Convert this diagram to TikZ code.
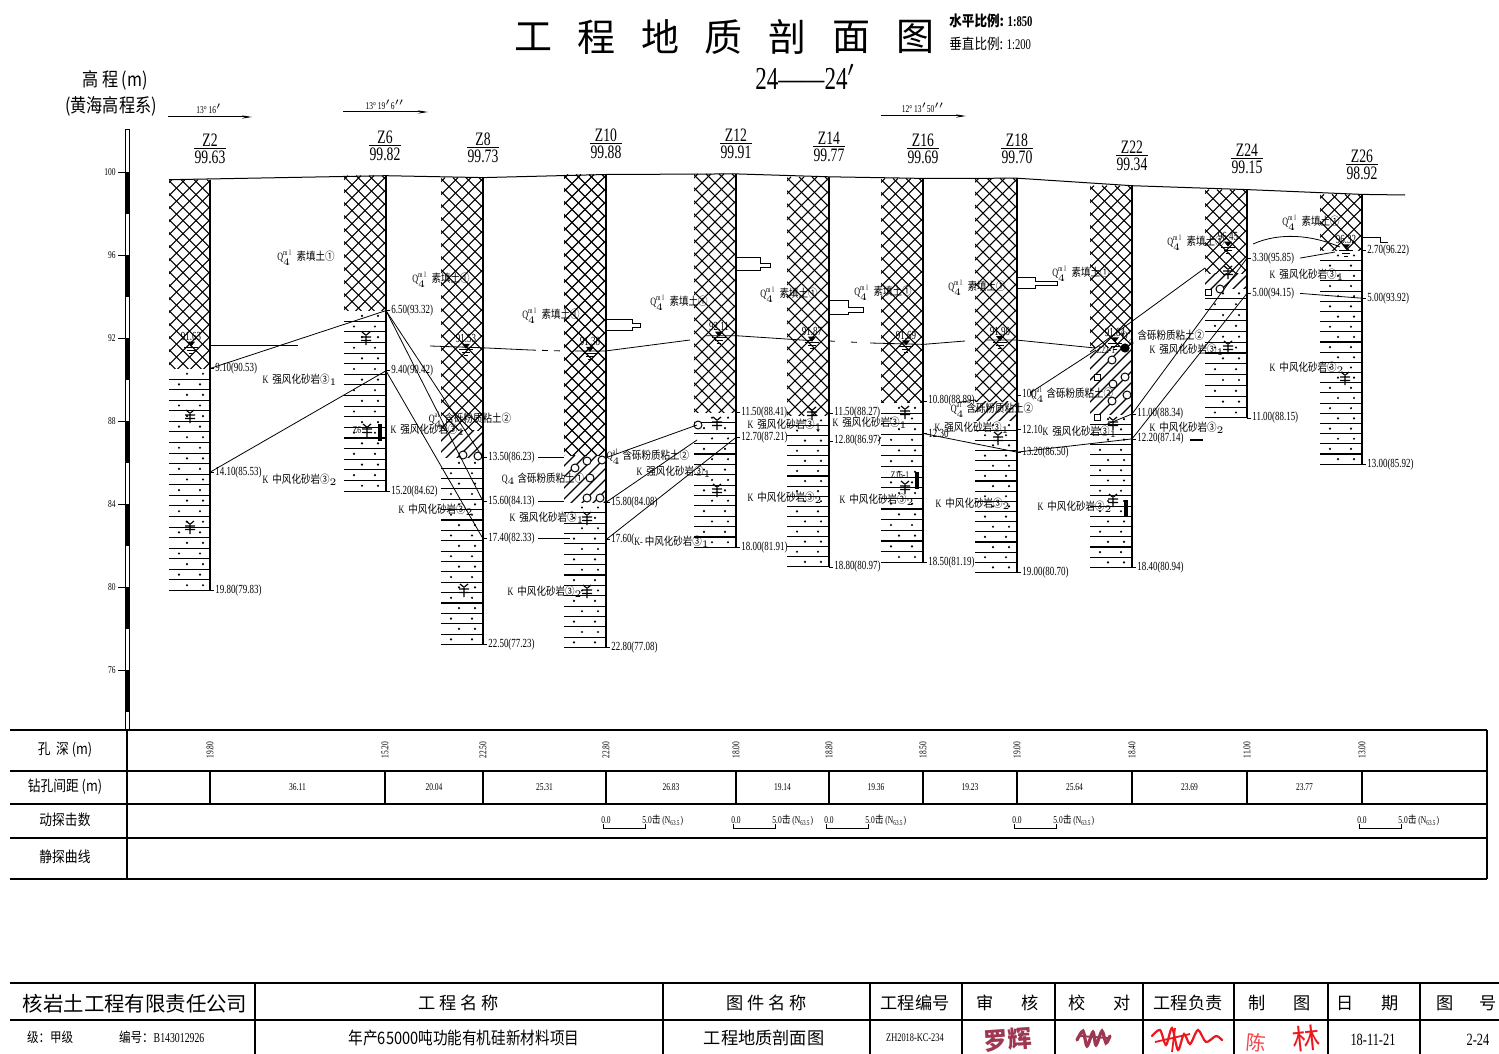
\documentclass[tikz,border=0pt]{standalone}
\usepackage{fontspec}
\setmainfont{Liberation Serif}[FakeStretch=0.72]
\newfontfamily\zh{Noto Sans CJK SC}[FakeStretch=0.85]
\newfontfamily\zhn{Noto Sans CJK SC}
\usetikzlibrary{arrows.meta}
\newcommand\fsz[1]{\fontsize{#1}{#1}\selectfont}
% layer legends
\newcommand\tFill{Q$_4^{\mathrm{ml}}$\ \ {\zh 素填土①}}
\newcommand\tClay{Q$_4^{\mathrm{al}}$\ {\zh 含砾粉质粘土②}}
\newcommand\tSw{K\ \ {\zh 强风化砂岩③}$_1$}
\newcommand\tMw{K\ \ {\zh 中风化砂岩③}$_2$}
% fill (cross hatch)
\newcommand\patX[4]{\begin{scope}\clip (#1,#2) rectangle (#3,#4);
  \foreach \kk in {0,...,27}{\draw[pat] (#1-300+\kk*13,#2) -- ++(320,320);
    \draw[pat] (#3+300-\kk*13,#2) -- ++(-320,320);}\end{scope}}
% sandstone (lines and dots)
\newcommand\patS[4]{\begin{scope}
  \pgfmathtruncatemacro\nrow{round((#4-#2)/10.4)}
  \pgfmathsetmacro\drow{(#4-#2)/\nrow}
  \foreach \ii in {1,...,\nrow}{\draw[pat] (#1,#2+\ii*\drow) -- (#3,#2+\ii*\drow);
    \fill ({#1+10+mod(\ii,2)*8},{#2+(\ii-0.5)*\drow}) circle (0.6pt);
    \fill ({#1+31+mod(\ii,2)*3},{#2+(\ii-0.5)*\drow}) circle (0.6pt);}\end{scope}}
% gravelly clay (single hatch)
\newcommand\patC[4]{\begin{scope}\clip (#1,#2) rectangle (#3,#4);
  \foreach \kk in {0,...,14}{\draw[pat] (#1+\kk*11,#2) -- ++(-200,200);}\end{scope}}
% depth label with tick
\newcommand\dep[3]{\draw (#1,#2)--++(4,0); \node[dp,anchor=west] at (#1+4,#2) {#3};}
% water level
\newcommand\wl[3]{\node[dp] at (#1,#2-9) {#3};
  \fill (#1-4,#2-4) -- (#1+4,#2-4) -- (#1,#2+1) -- cycle;
  \draw (#1-7,#2+2)--(#1+7,#2+2); \draw (#1-4,#2+5)--(#1+4,#2+5); \draw (#1-2,#2+8)--(#1+2,#2+8);}
% sample mark
\newcommand\smp[2]{\draw[line width=0.6pt] (#1,#2-4)--(#1,#2+7) (#1-5,#2-1)--(#1+5,#2-1) (#1-5,#2+2.5)--(#1+5,#2+2.5)
  (#1-4,#2-6)--(#1-1,#2-3.5) (#1+4,#2-6)--(#1+1,#2-3.5);}
% borehole header
\newcommand\bhead[5]{\node[hd] (#5) at (#1,#2) {#3}; \draw (#1-16,#2+8) -- (#1+16,#2+8);
  \node[hd] (#5e) at (#1,#2+17) {#4};}
% SPT scale in table
\newcommand\spt[1]{\node[ax] at (#1,820) {0.0}; \draw (#1-3,824)--(#1-3,828)--(#1+39,828)--(#1+39,824);
  \node[ax,anchor=west] at (#1+35,820) {5.0{\zh 击} (N\textsubscript{63.5})};}
\definecolor{sigm}{rgb}{0.62,0.22,0.32}
\definecolor{sigr}{rgb}{0.92,0.1,0.12}
\tikzset{
  pat/.style={line width=0.55pt},
  edge/.style={line width=1pt},
  bnd/.style={line width=0.4pt},
  dp/.style={font=\fsz{6.2}, inner sep=0.5pt},
  lb/.style={font=\fsz{5.6}, inner sep=0.5pt},
  hd/.style={font=\fsz{9.5}, inner sep=0pt},
  ax/.style={font=\fsz{5.2}, inner sep=0.5pt},
  cell/.style={font=\fsz{7.5}\zh, inner sep=0pt},
  tb/.style={line width=0.7pt},
  tbk/.style={line width=1.3pt},
  blk/.style={font=\fsz{8.6}\zhn, inner sep=0pt},
  probe/.style={line width=0.5pt},
}
\begin{document}
\begin{tikzpicture}[x=0.5pt,y=-0.5pt]
\useasboundingbox (0,0) rectangle (1499,1054);
% ---------- title ----------
\foreach \c/\xx in {工/533,程/596,地/660,质/723,剖/787,面/851,图/915}
  \node[font=\fsz{19}\zhn] at (\xx,37) {\c};
\node[font=\fsz{7.4}\bfseries,anchor=west,inner sep=0pt] (sh) at (949,21) {{\zh 水平比例:} 1:850};
\node[font=\fsz{7.4},anchor=west,inner sep=0pt] (sv) at (949,44) {{\zh 垂直比例:} 1:200};
\node[font=\fsz{16}] (sec) at (805,77) {24——24$'$};
\node[font=\fsz{9.5}\zh] (yl1) at (115,80) {高\ 程\ (m)};
\node[font=\fsz{9.5}\zh] (yl2) at (111,106) {(黄海高程系)};
% ---------- direction arrows ----------
\node[ax] (d1) at (209,109) {13°\,16$'$};
\draw[-{Stealth[length=5pt,width=1.6pt]},line width=0.5pt] (168,117)--(252,117);
\node[ax] (d2) at (385,105) {13°\,19$'$6$''$};
\draw[-{Stealth[length=5pt,width=1.6pt]},line width=0.5pt] (343,112)--(428,112);
\node[ax] (d3) at (923,108) {12°\,13$'$50$''$};
\draw[-{Stealth[length=5pt,width=1.6pt]},line width=0.5pt] (881,116)--(966,116);
% ---------- elevation scale ----------
\draw[line width=0.5pt] (125,130) rectangle (129,730);
\foreach \kk in {0,...,6} \fill (125,172+\kk*83) rectangle (129,213.5+\kk*83);
\foreach \e/\yy in {100/172,96/255,92/338,88/421,84/504,80/587,76/670}{
  \draw (118,\yy)--(125,\yy); \node[ax,anchor=east] at (117,\yy) {\e};}
% ---------- borehole headers ----------
\bhead{210}{140}{Z2}{99.63}{hZ2}
\bhead{385}{137}{Z6}{99.82}{hZ6}
\bhead{483}{139}{Z8}{99.73}{hZ8}
\bhead{606}{135}{Z10}{99.88}{hZ10}
\bhead{736}{135}{Z12}{99.91}{hZ12}
\bhead{829}{138}{Z14}{99.77}{hZ14}
\bhead{923}{140}{Z16}{99.69}{hZ16}
\bhead{1017}{140}{Z18}{99.70}{hZ18}
\bhead{1132}{147}{Z22}{99.34}{hZ22}
\bhead{1247}{150}{Z24}{99.15}{hZ24}
\bhead{1362}{156}{Z26}{98.92}{hZ26}
% ---------- ground line ----------
\draw[line width=0.5pt] (169,179.7)--(386,175.7)--(483,177.6)--(606,174.5)--(736,173.9)--(829,176.8)
  --(923,178.4)--(1017,178.2)--(1132,185.7)--(1247,189.6)--(1362,194.4)--(1405,195);
% ---------- borehole columns ----------
% Z2
\patX{169}{179.7}{210}{368.5}\patS{169}{368.5}{210}{590.5}
\draw[edge] (210,179.7)--(210,590.5);
% Z6
\patX{344}{175.7}{386}{310.6}\patS{344}{310.6}{386}{491.1}
\draw[edge] (386,175.7)--(386,491.1);
% Z8
\patX{441}{177.6}{483}{430}\patC{441}{430}{483}{457.7}\patS{441}{457.7}{483}{644.5}
\draw[edge] (483,177.6)--(483,644.5);
% Z10
\patX{564}{174.5}{606}{455}\patC{564}{455}{606}{502.3}\patS{564}{502.3}{606}{647.6}
\draw[edge] (606,174.5)--(606,647.6);
% Z12
\patX{694}{173.9}{736}{412.5}\patS{694}{412.5}{736}{547.4}
\draw[edge] (736,173.9)--(736,547.4);
% Z14
\patX{787}{176.8}{829}{415.4}\patS{787}{415.4}{829}{566.9}
\draw[edge] (829,176.8)--(829,566.9);
% Z16
\patX{881}{178.4}{923}{402.5}\patS{881}{402.5}{923}{562.3}
\draw[edge] (923,178.4)--(923,562.3);
% Z18
\patX{975}{178.2}{1017}{401}\patC{975}{401}{1017}{420}\patS{975}{420}{1017}{572.5}
\draw[edge] (1017,178.2)--(1017,572.5);
% Z22
\patX{1090}{185.7}{1132}{347}\patC{1090}{347}{1132}{414}\patS{1090}{414}{1132}{567.5}
\draw[edge] (1132,185.7)--(1132,567.5);
% Z24
\patX{1205}{189.6}{1247}{273}\patC{1205}{273}{1247}{288}\patS{1205}{288}{1247}{417.9}
\draw[edge] (1247,189.6)--(1247,417.9);
% Z26
\patX{1320}{194.4}{1362}{250.4}\patS{1320}{250.4}{1362}{464.2}
\draw[edge] (1362,194.4)--(1362,464.2);
% gravel in clay layers
\foreach \cx/\cy in {463/455,478/456,575/468,590/478,587/498,600/498,602/460,587/461,
  1112/360,1125/377,1113/384,1127/395,1112/401,698/425,1220/289}
  {\draw[fill=white,line width=0.5pt] (\cx,\cy) circle (2pt);}
\foreach \cx/\cy in {1097/377,1097/417,1208/292}
  {\draw[fill=white,line width=0.5pt] (\cx-3,\cy-3) rectangle (\cx+3,\cy+3);}
\fill (1125,348) circle (2.3pt);
% ---------- dynamic probe bars ----------
\draw[probe] (606,319)--(632,319)--(632,323)--(640,323)--(640,327)--(632,327)--(632,330)--(606,330);
\draw[probe] (736,257)--(760,257)--(760,263)--(770,263)--(770,267)--(760,267)--(760,270)--(736,270);
\draw[probe] (829,300)--(848,300)--(848,307)--(863,307)--(863,312)--(848,312)--(848,314)--(829,314);
\draw[probe] (1017,277)--(1035,277)--(1035,281)--(1057,281)--(1057,285)--(1035,285)--(1035,288)--(1017,288);
\draw[probe] (1362,237)--(1380,237)--(1380,242)--(1388,242);
% ---------- layer boundaries ----------
\draw[bnd] (210,368.5)--(386,310.6);
\draw[bnd] (210,472.2)--(386,370.8);
\draw[bnd] (386,310.6)--(483,457.7);
\draw[bnd] (386,310.6)--(483,501.3);
\draw[bnd] (386,370.8)--(483,538.7);
\draw[bnd] (538,457.7)--(564,457.7);
\draw[bnd] (538,501.3)--(564,501.3);
\draw[bnd] (538,538.7)--(570,538.7);
\draw[bnd] (606,457.7)--(697,425);
\draw[bnd] (606,502.3)--(697,440);
\draw[bnd] (606,539.7)--(736,437.4);
\draw[bnd] (878,441)--(881,437.4);
\draw[bnd] (923,433.4)--(1017,452.1);
\draw[bnd] (958,402.5)--(975,400);
\draw[bnd] (1030,393)--(1096,350);
\draw[bnd] (1105,425)--(1132,414);
\draw[bnd] (1017,452.1)--(1132,438.9);
\draw[bnd] (1090,352)--(1205,268);
\draw[bnd] (1132,414)--(1247,258.1);
\draw[bnd] (1132,438.9)--(1247,293.4);
\draw[bnd] (1300,258.1)--(1335,252);
\draw[bnd] (1300,293.4)--(1362,298.2);
\draw[line width=1pt] (1190,440)--(1203,440);
% ---------- water table ----------
\draw[bnd] (210,345.7)--(298,345.7);
\draw[bnd] (430,346)--(483,347.8)--(530,350);
\draw[bnd,dashed] (530,350)--(564,351);
\draw[bnd] (575,351)--(606,350.9)--(690,340);
\draw[bnd] (705,335.7)--(736,335.7)--(812,340.7);
\draw[bnd,dash pattern=on 3pt off 8pt] (829,341)--(870,343);
\draw[bnd] (870,343)--(923,344.4)--(965,341);
\draw[bnd] (985,340)--(1017,340.1)--(1095,348);
\draw[bnd] (1253,244) .. controls (1280,232) and (1312,235) .. (1340,247);
\wl{191}{345.7}{91.63}
\wl{466}{347.8}{91.53}
\wl{590}{350.9}{91.38}
\wl{719}{335.7}{92.11}
\wl{812}{340.7}{91.87}
\wl{906}{344.4}{91.69}
\wl{1000}{340.1}{91.90}
\wl{1115}{341.3}{91.84}
\wl{1228}{245.7}{96.45}
\wl{1346}{248.4}{96.32}
% ---------- samples ----------
\foreach \sx/\sy in {190/416,190/527,366/338,367/430,464/590,587/518,587/591,717/423,717/490,
  812/413,905/412,905/487,998/438,1113/423,1113/500,1228/272,1228/347,1345/378}
  {\smp{\sx}{\sy}}
\fill (378,424) rectangle (382,441);
\fill (915,472) rectangle (919,489);
\fill (1124,500) rectangle (1128,517);
\node[ax] (s6) at (357,430) {Z6};
\node[ax] (s16) at (900,475) {Z16-1};
\node[ax] (s22) at (1106,350) {Z22-1};
% ---------- depth labels ----------
\dep{210}{368.5}{9.10(90.53)}
\dep{210}{472.2}{14.10(85.53)}
\dep{210}{590.5}{19.80(79.83)}
\dep{386}{310.6}{6.50(93.32)}
\dep{386}{370.8}{9.40(90.42)}
\dep{386}{491.1}{15.20(84.62)}
\dep{483}{457.7}{13.50(86.23)}
\dep{483}{501.3}{15.60(84.13)}
\dep{483}{538.7}{17.40(82.33)}
\dep{483}{644.5}{22.50(77.23)}
\dep{606}{502.3}{15.80(84.08)}
\dep{606}{539.7}{17.60(}
\dep{606}{647.6}{22.80(77.08)}
\dep{736}{412.5}{11.50(88.41)}
\dep{736}{437.4}{12.70(87.21)}
\dep{736}{547.4}{18.00(81.91)}
\dep{829}{413}{11.50(88.27)}
\dep{829}{441}{12.80(86.97)}
\dep{829}{566.9}{18.80(80.97)}
\dep{923}{401}{10.80(88.89)}
\dep{923}{433.4}{12.30}
\dep{923}{562.3}{18.50(81.19)}
\dep{1017}{395}{10(}
\dep{1017}{429.3}{12.10}
\dep{1017}{452.1}{13.20(86.50)}
\dep{1017}{572.5}{19.00(80.70)}
\dep{1132}{413.9}{11.00(88.34)}
\dep{1132}{438.9}{12.20(87.14)}
\dep{1132}{567.5}{18.40(80.94)}
\dep{1247}{258.1}{3.30(95.85)}
\dep{1247}{293.4}{5.00(94.15)}
\dep{1247}{417.9}{11.00(88.15)}
\dep{1362}{250.4}{2.70(96.22)}
\dep{1362}{298.2}{5.00(93.92)}
\dep{1362}{464.2}{13.00(85.92)}
% ---------- layer names ----------
\foreach \lx/\ly in {306/258,441/280,551/316,679/303,789/295,883/293,977/288,1081/274,1196/243,1311/223}
  {\node[lb] at (\lx,\ly) {\tFill};}
\foreach \lx/\ly in {470/420,648/457,992/410,1072/395,1163/337}
  {\node[lb] at (\lx,\ly) {\tClay};}
\node[lb] (cz10) at (543,479) {Q$_4$\ {\zh 含砾粉质粘土①}};
\foreach \lx/\ly in {300/380,428/430,547/518,674/472,785/425,870/423,972/428,1080/432,1187/350,1307/275}
  {\node[lb] at (\lx,\ly) {\tSw};}
\foreach \lx/\ly in {300/480,436/510,545/592,785/498,877/500,973/504,1075/507,1187/428,1307/368}
  {\node[lb] at (\lx,\ly) {\tMw};}
\node[lb] (mz10) at (672,542) {K-\ {\zh 中风化砂岩③}$_1$};
% ---------- data table ----------
\draw[tbk] (10,730)--(1487,730);
\draw[tb] (10,771)--(1487,771) (10,804)--(1487,804) (10,838)--(1487,838);
\draw[tbk] (10,879)--(1487,879);
\draw[tbk] (1487,730)--(1487,879);
\draw[tbk] (127,730)--(127,879);
\node[cell] (r1) at (65,750) {孔\ \ 深\ (m)};
\node[cell] (r2) at (65,787) {钻孔间距\ (m)};
\node[cell] (r3) at (65,820) {动探击数};
\node[cell] (r4) at (65,857) {静探曲线};
\foreach \tx/\tv in {210/19.80,385/15.20,483/22.50,606/22.80,736/18.00,829/18.80,923/18.50,
  1017/19.00,1132/18.40,1247/11.00,1362/13.00}
  {\node[ax,rotate=90] at (\tx,750) {\tv}; \draw[tb] (\tx,771)--(\tx,804);}
\foreach \tx/\tv in {297.5/36.11,434/20.04,544.5/25.31,671/26.83,782.5/19.14,876/19.36,
  970/19.23,1074.5/25.64,1189.5/23.69,1304.5/23.77}
  {\node[ax] at (\tx,787) {\tv};}
\spt{606}\spt{736}\spt{829}\spt{1017}\spt{1362}
% ---------- title block ----------
\draw[tb] (10,983)--(1499,983) (10,1020)--(1499,1020);
\foreach \vx in {255,663,870,962,1055,1143,1234,1328,1420} \draw[tb] (\vx,983)--(\vx,1054);
\node[font=\fsz{10.2}\zhn] (co) at (135,1004) {核岩土工程有限责任公司};
\node[font=\fsz{6.8}\zh,anchor=west] (lv) at (20,1037) {级：甲级};
\node[font=\fsz{6.8},anchor=west] (no) at (112,1037) {{\zh 编号：}B143012926};
\node[blk] (p1) at (459,1003) {工\ 程\ 名\ 称};
\node[font=\fsz{8.6}\zh] (p2) at (464,1038) {年产65000吨功能有机硅新材料项目};
\node[blk] (g1) at (767,1003) {图\ 件\ 名\ 称};
\node[blk] (g2) at (764,1038) {工程地质剖面图};
\node[blk] (n1) at (915,1003) {工程编号};
\node[font=\fsz{5.8}] (n2) at (915,1038) {ZH2018-KC-234};
\foreach \c/\xx in {审/985,核/1030,校/1077,对/1122,制/1257,图/1302,日/1345,期/1390,图/1445,号/1488}
  {\node[blk] at (\xx,1003) {\c};}
\node[blk] (fz) at (1188,1003) {工程负责};
\node[font=\fsz{8.6}] (dt) at (1373,1040) {18-11-21};
\node[font=\fsz{8.6}] (tn) at (1478,1040) {2-24};
% signatures
\node[font=\fsz{12}\zhn\bfseries, text=sigm, rotate=4] (sg1) at (1008,1040) {罗辉};
\draw[sigm,line width=1.6pt,line cap=round] plot[smooth] coordinates {(1077,1040)(1083,1031)(1087,1046)(1093,1032)(1096,1045)(1102,1031)(1106,1043)(1110,1036)};
\draw[sigm,line width=1pt] (1080,1036)--(1108,1038);
\draw[sigr,line width=1.1pt,line cap=round] plot[smooth] coordinates {(1152,1036)(1160,1030)(1166,1045)(1172,1028)(1178,1050)(1184,1034)(1190,1044)(1198,1030)(1206,1042)(1216,1036)(1222,1040)};
\draw[sigr,line width=0.9pt] (1155,1042)--(1190,1034) (1175,1028)--(1172,1052);
\node[font=\fsz{10}\zhn, text=sigr!80, rotate=-5] (sg4) at (1256,1043) {陈};
\node[font=\fsz{14}\zhn, text=sigr, rotate=6] (sg5) at (1306,1038) {林};
\end{tikzpicture}
\end{document}
